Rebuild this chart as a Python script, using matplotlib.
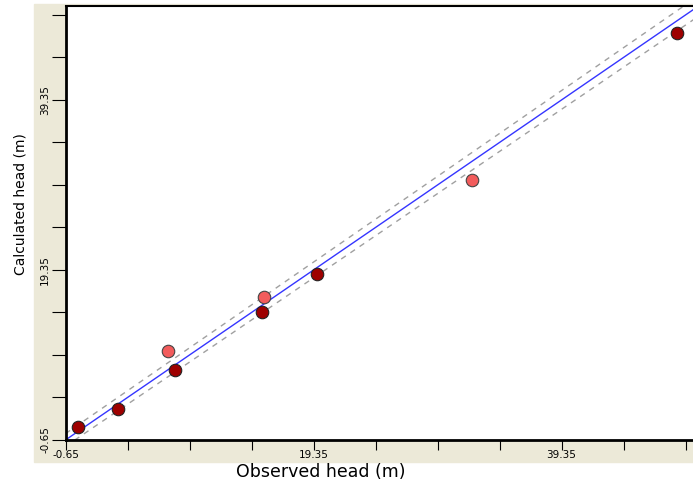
import matplotlib
matplotlib.use('Agg')
import matplotlib.pyplot as plt
from matplotlib.patches import Rectangle

# observed vs calculated heads (m)
obs_ok = [0.38, 3.61, 8.18, 15.17, 19.66, 48.64]
calc_ok = [0.84, 2.96, 7.59, 14.44, 18.88, 47.20]
obs_off = [7.59, 15.36, 32.16]
calc_off = [9.86, 16.21, 29.94]

line_x = [-0.65, 50.4]
band = [0.75, 1.2]  # half width of the dashed band at each end

ticks = [-0.65 + 5 * i for i in range(11)]
tick_labels = ['-0.65' if t == -0.65 else ('%.2f' % t if i % 4 == 0 else '')
               for i, t in enumerate(ticks)]

fig = plt.figure(figsize=(6.93, 4.84), dpi=100)
fig.patches.append(Rectangle((34 / 693, 22 / 484), 1 - 34 / 693, 458 / 484,
                             transform=fig.transFigure, color='#ECE9D8', zorder=-1))
ax = fig.add_axes([65.5 / 693, 44 / 484, 1 - 65.5 / 693, 434 / 484])

ax.plot(line_x, line_x, color='#3535FF', lw=1, zorder=2)
ax.plot(line_x, [line_x[0] + band[0], line_x[1] + band[1]], color='#A0A0A0',
        lw=1, dashes=(4, 4), zorder=2)
ax.plot(line_x, [line_x[0] - band[0], line_x[1] - band[1]], color='#A0A0A0',
        lw=1, dashes=(4, 4), zorder=2)

ax.plot(obs_ok, calc_ok, 'o', ms=9, mfc='#9E0000', mec='#222222', mew=0.8, zorder=3)
ax.plot(obs_off, calc_off, 'o', ms=9, mfc='#F25C5C', mec='#444444', mew=0.8, zorder=3)

ax.set_xlim(-0.65, 49.95)
ax.set_ylim(-0.65, 50.4)
ax.set_xticks(ticks)
ax.set_yticks(ticks)
ax.set_xticklabels(tick_labels, fontsize=7.5)
ax.set_yticklabels(tick_labels, fontsize=7.5, rotation=90, va='center')
ax.tick_params(axis='x', length=7, direction='out', pad=0.5)
ax.tick_params(axis='y', length=10, direction='out', pad=1)

ax.spines['right'].set_visible(False)
ax.spines['left'].set_linewidth(2)
ax.spines['bottom'].set_linewidth(2)
ax.spines['top'].set_linewidth(1.5)

ax.set_xlabel('Observed head (m)', fontsize=12.5)
ax.set_ylabel('Calculated head (m)', fontsize=10)
ax.xaxis.set_label_coords(0.406, -0.053)
ax.yaxis.set_label_coords(-0.061, 0.544)

fig.savefig('out.png', dpi=100)
